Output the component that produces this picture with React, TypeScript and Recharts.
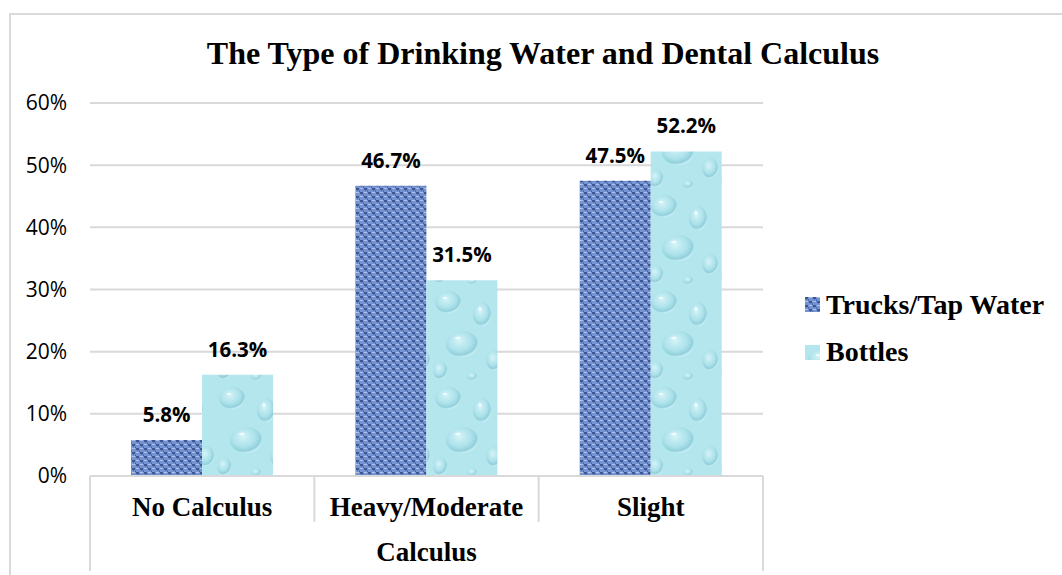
import React from 'react';
import { BarChart, Bar, XAxis, YAxis, CartesianGrid, LabelList, Legend } from 'recharts';

const categories = ['No Calculus', 'Heavy/Moderate', 'Slight'];
const trucksTap = [5.8, 46.7, 47.5];
const bottles = [16.3, 31.5, 52.2];
const yTicks = [0, 10, 20, 30, 40, 50, 60];
const seriesNames = ['Trucks/Tap Water', 'Bottles'];
const seriesKeys = ['trucks', 'bottles'];
const chartTitle = 'The Type of Drinking Water and Dental Calculus';
const xTitle = 'Calculus';

const data = categories.map((c, i) => ({ category: c, trucks: trucksTap[i], bottles: bottles[i] }));

const W = 1062;
const H = 575;
const PLOT_LEFT = 90;
const PLOT_RIGHT = 763;
const PLOT_TOP = 103;
const PLOT_BOTTOM = 476;
const BAND = (PLOT_RIGHT - PLOT_LEFT) / categories.length;
const GRID = '#d9d9d9';
const SERIF = '"Liberation Serif", "Times New Roman", serif';
const SANS = '"Open Sans", "Liberation Sans", sans-serif';
const patternIds = ['burlap', 'water'];

const XTick = (props: any) => {
  const { x, payload, index } = props;
  const left = x - BAND / 2;
  const right = x + BAND / 2;
  return (
    <g>
      <line x1={left} x2={left} y1={PLOT_BOTTOM} y2={index === 0 ? 571 : 522} stroke={GRID} strokeWidth={2} />
      {index === categories.length - 1 && (
        <line x1={right} x2={right} y1={PLOT_BOTTOM} y2={571} stroke={GRID} strokeWidth={2} />
      )}
      <text x={x} y={516} textAnchor="middle" fontFamily={SERIF} fontWeight="bold" fontSize={27} fill="#000">
        {payload.value}
      </text>
    </g>
  );
};

const renderLegend = () => (
  <div style={{ fontFamily: SERIF, fontWeight: 'bold', fontSize: 28, color: '#000' }}>
    {seriesNames.map((n, i) => (
      <div key={n} style={{ display: 'flex', alignItems: 'center', height: 47.5, whiteSpace: 'nowrap' }}>
        <svg width={15} height={15} style={{ marginRight: 6, display: 'block' }}>
          <rect width={15} height={15} fill={`url(#${patternIds[i]}-legend)`} />
        </svg>
        <span style={{ lineHeight: 1 }}>{n}</span>
      </div>
    ))}
  </div>
);

const PatternDefs = ({ suffix }: { suffix: string }) => (
  <defs>
    <pattern id={`burlap${suffix}`} width={8} height={8} patternUnits="userSpaceOnUse">
      <rect width={8} height={8} fill="#7592d1" />
      <rect x={0} y={0} width={3} height={2} fill="#3a5897" />
      <rect x={4} y={4} width={3} height={2} fill="#3a5897" />
      <rect x={1} y={2} width={1} height={1} fill="#5070b3" />
      <rect x={5} y={6} width={1} height={1} fill="#5070b3" />
      <rect x={4} y={0} width={3} height={1} fill="#aec0ea" />
      <rect x={0} y={4} width={3} height={1} fill="#aec0ea" />
      <rect x={3} y={2} width={1} height={2} fill="#4d6cae" />
      <rect x={7} y={6} width={1} height={2} fill="#4d6cae" />
    </pattern>
    <radialGradient id={`drop${suffix}`} cx="42%" cy="38%" r="62%">
      <stop offset="0%" stopColor="#d3f3f8" />
      <stop offset="60%" stopColor="#ade2ea" />
      <stop offset="88%" stopColor="#92d0dc" />
      <stop offset="100%" stopColor="#c9eff5" />
    </radialGradient>
    <pattern id={`water${suffix}`} width={72} height={96} patternUnits="userSpaceOnUse">
      <rect width={72} height={96} fill="#b4e6ee" />
      <ellipse cx={16} cy={14} rx={13} ry={11} fill={`url(#drop${suffix})`} />
      <ellipse cx={50} cy={26} rx={9} ry={12} fill={`url(#drop${suffix})`} />
      <ellipse cx={30} cy={56} rx={16} ry={13} fill={`url(#drop${suffix})`} />
      <ellipse cx={62} cy={72} rx={8} ry={10} fill={`url(#drop${suffix})`} />
      <ellipse cx={8} cy={82} rx={7} ry={9} fill={`url(#drop${suffix})`} />
      <ellipse cx={40} cy={88} rx={5} ry={4} fill={`url(#drop${suffix})`} />
      <ellipse cx={26} cy={50} rx={3} ry={1.6} fill="#eafbfd" />
      <ellipse cx={13} cy={10} rx={2.4} ry={1.3} fill="#eafbfd" />
      <ellipse cx={48} cy={21} rx={1.6} ry={2.2} fill="#eafbfd" />
    </pattern>
  </defs>
);

export default function App() {
  return (
    <div style={{ position: 'absolute', left: 0, top: 0, width: W, height: H, overflow: 'hidden', background: '#fff' }}>
      <div
        style={{
          position: 'absolute',
          left: 9,
          top: 13,
          width: W - 9,
          height: H - 13,
          borderTop: `2px solid ${GRID}`,
          borderLeft: `2px solid ${GRID}`,
          boxSizing: 'border-box',
        }}
      />
      <div
        style={{
          position: 'absolute',
          left: 143,
          top: 37,
          width: 800,
          textAlign: 'center',
          fontFamily: SERIF,
          fontWeight: 'bold',
          fontSize: 32,
          lineHeight: 1,
          color: '#000',
          whiteSpace: 'nowrap',
        }}
      >
        {chartTitle}
      </div>
      <svg width={0} height={0} style={{ position: 'absolute' }}>
        <PatternDefs suffix="-legend" />
      </svg>
      <div style={{ position: 'absolute', left: 0, top: 0 }}>
        <BarChart
          width={W}
          height={H}
          data={data}
          margin={{ top: PLOT_TOP, right: W - PLOT_RIGHT, bottom: 0, left: 0 }}
          barCategoryGap="18.3%"
          barGap={0}
        >
          <PatternDefs suffix="" />
          <CartesianGrid horizontal vertical={false} stroke={GRID} strokeWidth={2} />
          <XAxis
            dataKey="category"
            height={H - PLOT_BOTTOM}
            tickLine={false}
            tickSize={0}
            axisLine={{ stroke: GRID, strokeWidth: 2 }}
            tick={<XTick />}
            interval={0}
            label={{
              value: xTitle,
              position: 'insideBottom',
              offset: 14,
              fontFamily: SERIF,
              fontWeight: 'bold',
              fontSize: 27,
              fill: '#000',
            }}
          />
          <YAxis
            width={PLOT_LEFT}
            domain={[0, 60]}
            ticks={yTicks}
            tickFormatter={(v: number) => `${v}%`}
            axisLine={false}
            tickLine={false}
            tickSize={0}
            tickMargin={23}
            tick={{ fontFamily: SANS, fontSize: 21, fill: '#000' }}
          />
          <Legend
            layout="vertical"
            align="center"
            verticalAlign="middle"
            content={renderLegend}
            wrapperStyle={{ left: 805, top: 281, width: 257 }}
          />
          {seriesKeys.map((k, i) => (
            <Bar key={k} dataKey={k} name={seriesNames[i]} fill={`url(#${patternIds[i]})`} isAnimationActive={false}>
              <LabelList
                dataKey={k}
                position="top"
                offset={18}
                formatter={(v: any) => `${Number(v).toFixed(1)}%`}
                style={{ fontFamily: SANS, fontWeight: 'bold', fontSize: 20.5, fill: '#000' }}
              />
            </Bar>
          ))}
        </BarChart>
      </div>
    </div>
  );
}
